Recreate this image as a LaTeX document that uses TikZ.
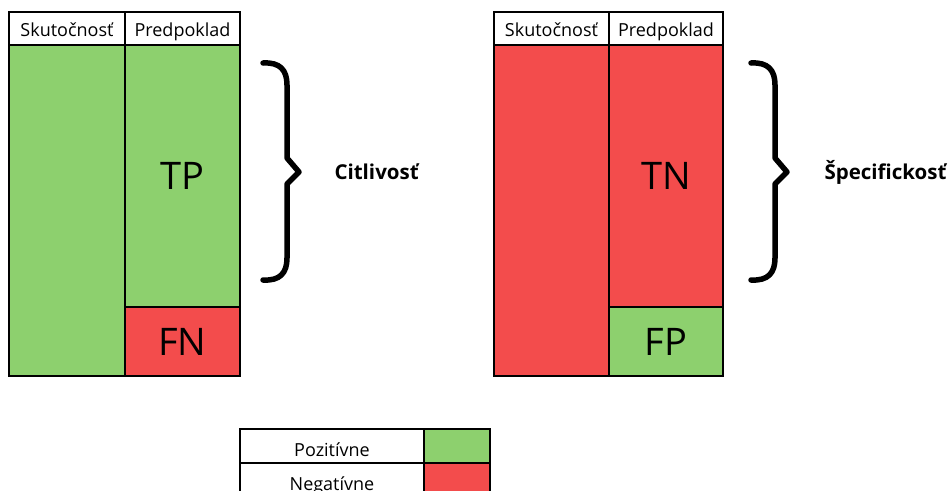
\documentclass[tikz,border=0pt]{standalone}
\usepackage{fontspec}
\setmainfont{Open Sans}
\usetikzlibrary{positioning}
\definecolor{posgreen}{RGB}{141,208,110}
\definecolor{negred}{RGB}{243,76,76}

\begin{document}
\begin{tikzpicture}[x=1pt, y=-1pt, node distance=0pt,
    cell/.style = {draw, line width=1.2pt, inner sep=0pt, outer sep=0pt},
    head/.style = {cell, text height=24, text depth=9, font=\fontsize{18}{20}\selectfont},
    legrow/.style = {cell, text height=27, text depth=7, font=\fontsize{18}{20}\selectfont},
    big/.style = {font=\fontsize{38}{42}\selectfont},
    brace/.style = {line width=5.5pt, line cap=round, line join=round},
    label/.style = {anchor=west, font=\fontsize{20.5}{24}\selectfont\bfseries}]
    \useasboundingbox (0,0) rectangle (949,490);
    % left table
    \node[head, minimum width=116, anchor=north west] (sk1) at (9,12) {Skutočnosť};
    \node[head, minimum width=115] (pr1) [right=of sk1] {Predpoklad};
    \node[cell, fill=posgreen, minimum width=116, minimum height=331] (act1) [below=of sk1] {};
    \node[cell, big, fill=posgreen, minimum width=115, minimum height=262] (tp) [below=of pr1] {TP};
    \node[cell, big, fill=negred, minimum width=115, minimum height=69] (fn) [below=of tp] {FN};
    % right table
    \node[head, minimum width=115, anchor=north west] (sk2) at (494,12) {Skutočnosť};
    \node[head, minimum width=114] (pr2) [right=of sk2] {Predpoklad};
    \node[cell, fill=negred, minimum width=115, minimum height=331] (act2) [below=of sk2] {};
    \node[cell, big, fill=negred, minimum width=114, minimum height=262] (tn) [below=of pr2] {TN};
    \node[cell, big, fill=posgreen, minimum width=114, minimum height=69] (fp) [below=of tn] {FP};
    % braces
    \draw[brace] (263,63) .. controls (280,62) and (287,70) .. (287,85) -- (287,158) -- (299,172) -- (287,184) -- (287,258) .. controls (287,273) and (280,281) .. (263,280);
    \draw[brace, xshift=488] (263,63) .. controls (280,62) and (287,70) .. (287,85) -- (287,158) -- (299,172) -- (287,184) -- (287,258) .. controls (287,273) and (280,281) .. (263,280);
    \node[label] (sens) at (331,172) {Citlivosť};
    \node[label] (spec) at (821,172) {Špecifickosť};
    % legend
    \node[legrow, minimum width=184, anchor=north west] (pos) at (240,429) {Pozitívne};
    \node[cell, fill=posgreen, minimum width=66, minimum height=34] (posc) [right=of pos] {};
    \node[legrow, minimum width=184] (neg) [below=of pos] {Negatívne};
    \node[cell, fill=negred, minimum width=66, minimum height=34] (negc) [right=of neg] {};
\end{tikzpicture}
\end{document}
